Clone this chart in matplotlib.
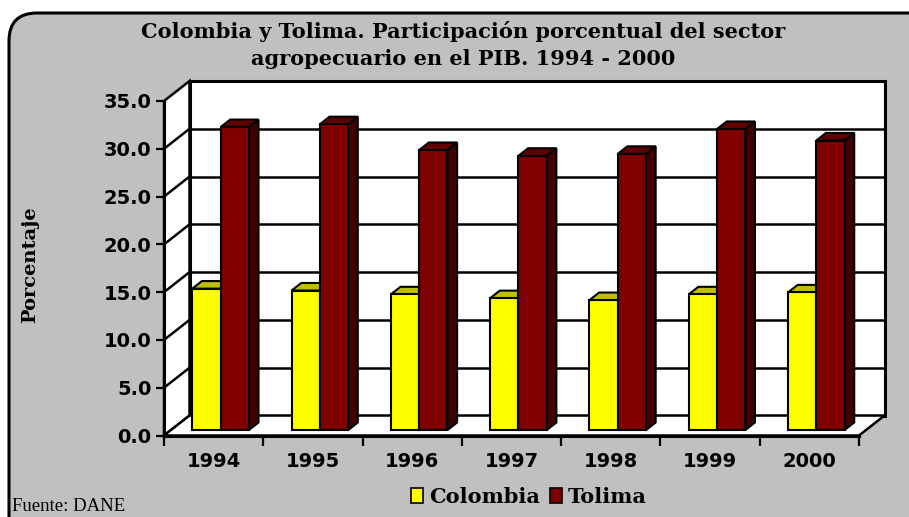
import numpy as np
import matplotlib.pyplot as plt
from matplotlib.patches import Polygon, Rectangle, FancyBboxPatch, Patch
from matplotlib.ticker import FixedLocator, FuncFormatter

# --- DATA ---
years = ["1994", "1995", "1996", "1997", "1998", "1999", "2000"]
colombia = [14.8, 14.6, 14.2, 13.8, 13.6, 14.2, 14.4]
tolima = [31.7, 32.0, 29.3, 28.7, 28.9, 31.5, 30.3]
yticks = [0, 5, 10, 15, 20, 25, 30, 35]

# --- STYLE ---
W, H = 909, 517
GREY = "#c0c0c0"
COL_FRONT, COL_TOP, COL_SIDE = "#ffff00", "#bfbf00", "#808000"
TOL_FRONT, TOL_TOP, TOL_SIDE = "#800000", "#600000", "#400000"
YMAX = 35
DX, DY = 0.257, 2.09          # depth of the box, in data units
F0, F1 = 0.27, 0.65           # bar front / back depth fraction
BW = 0.285                    # bar width

fig = plt.figure(figsize=(W / 100, H / 100), dpi=100, facecolor="white")

# rounded grey frame
bg = fig.add_axes([0, 0, 1, 1], zorder=-5)
bg.set_xlim(0, W)
bg.set_ylim(H, 0)
bg.axis("off")
bg.add_patch(FancyBboxPatch((9, 13), 940, 540, boxstyle="round,pad=0,rounding_size=28",
                            facecolor=GREY, edgecolor="black", lw=2.2))

ax = fig.add_axes([164 / W, (H - 435.5) / H, 695 / W, 334.5 / H])
ax.set_facecolor("none")
n = len(years)
x = np.arange(n)
ax.set_xlim(-0.5, n - 0.5)
ax.set_ylim(0, YMAX)

x0, x1 = -0.5, n - 0.5
# walls and floor
ax.add_patch(Rectangle((x0 + DX, DY), n, YMAX, facecolor="white", edgecolor="black",
                       lw=2.2, clip_on=False, zorder=0.5))
ax.add_patch(Polygon([(x0, 0), (x0 + DX, DY), (x0 + DX, YMAX + DY), (x0, YMAX)],
                     facecolor="white", edgecolor="black", lw=1.8, clip_on=False, zorder=0.6))
ax.add_patch(Polygon([(x0, 0), (x1, 0), (x1 + DX, DY), (x0 + DX, DY)],
                     facecolor="white", edgecolor="black", lw=1.8, clip_on=False, zorder=0.6))
for v in yticks[1:-1]:
    ax.plot([x0 + DX, x1 + DX], [v + DY, v + DY], color="black", lw=1.8,
            clip_on=False, zorder=0.7)
    ax.plot([x0, x0 + DX], [v, v + DY], color="black", lw=1.8, clip_on=False, zorder=0.7)

# bars
series = [(colombia, -BW / 2, COL_FRONT, COL_TOP, COL_SIDE, 3),
          (tolima, BW / 2, TOL_FRONT, TOL_TOP, TOL_SIDE, 4)]
ddx, ddy = (F1 - F0) * DX, (F1 - F0) * DY
for vals, off, cf, ct, cs, z in series:
    xs = x + off + F0 * DX
    ax.bar(xs, vals, width=BW, bottom=F0 * DY, color=cf, edgecolor="black", lw=1.5,
           zorder=z + 0.2, clip_on=False)
    for xc, v in zip(xs, vals):
        l, r = xc - BW / 2, xc + BW / 2
        b, t = F0 * DY, F0 * DY + v
        ax.add_patch(Polygon([(l, t), (r, t), (r + ddx, t + ddy), (l + ddx, t + ddy)],
                             facecolor=ct, edgecolor="black", lw=1.5, clip_on=False, zorder=z))
        ax.add_patch(Polygon([(r, b), (r + ddx, b + ddy), (r + ddx, t + ddy), (r, t)],
                             facecolor=cs, edgecolor="black", lw=1.5, clip_on=False, zorder=z))

# axes lines and ticks
for s in ["top", "right"]:
    ax.spines[s].set_visible(False)
for s in ["left", "bottom"]:
    ax.spines[s].set_linewidth(2.2)
    ax.spines[s].set_zorder(6)
ax.set_yticks(yticks)
ax.yaxis.set_major_formatter(FuncFormatter(lambda v, p: f"{v:.1f}"))
ax.tick_params(axis="y", length=6, width=1.6, pad=3, labelsize=14)
ax.xaxis.set_major_locator(FixedLocator(np.arange(n + 1) - 0.5))
ax.xaxis.set_minor_locator(FixedLocator(x))
ax.set_xticklabels([], minor=False)
ax.set_xticklabels(years, minor=True)
ax.tick_params(axis="x", which="major", length=7, width=1.6)
ax.tick_params(axis="x", which="minor", length=0, pad=12, labelsize=14)
for lab in ax.get_yticklabels() + ax.get_xticklabels(minor=True):
    lab.set_fontweight("bold")

fig.text(30 / W, 1 - 265 / H, "Porcentaje", rotation=90, ha="center", va="center",
         family="DejaVu Serif", fontweight="bold", fontsize=14)
fig.text(463 / W, 1 - 45 / H,
         "Colombia y Tolima. Participación porcentual del sector\nagropecuario en el PIB. 1994 - 2000",
         ha="center", va="center", family="DejaVu Serif", fontweight="bold", fontsize=15,
         linespacing=1.45)
fig.text(12 / W, 1 - 511 / H, "Fuente: DANE", ha="left", va="baseline",
         family="Liberation Serif", fontsize=13.5)

handles = [Patch(facecolor=COL_FRONT, edgecolor="black", lw=1.2),
           Patch(facecolor=TOL_FRONT, edgecolor="black", lw=1.2)]
fig.legend(handles, ["Colombia", "Tolima"], loc="center", bbox_to_anchor=(529 / W, 1 - 497 / H),
           ncol=2, frameon=False, prop={"family": "DejaVu Serif", "weight": "bold", "size": 15},
           handlelength=0.55, handleheight=0.7, handletextpad=0.3, columnspacing=0.5)

fig.savefig("out.png", dpi=100, facecolor="white")
